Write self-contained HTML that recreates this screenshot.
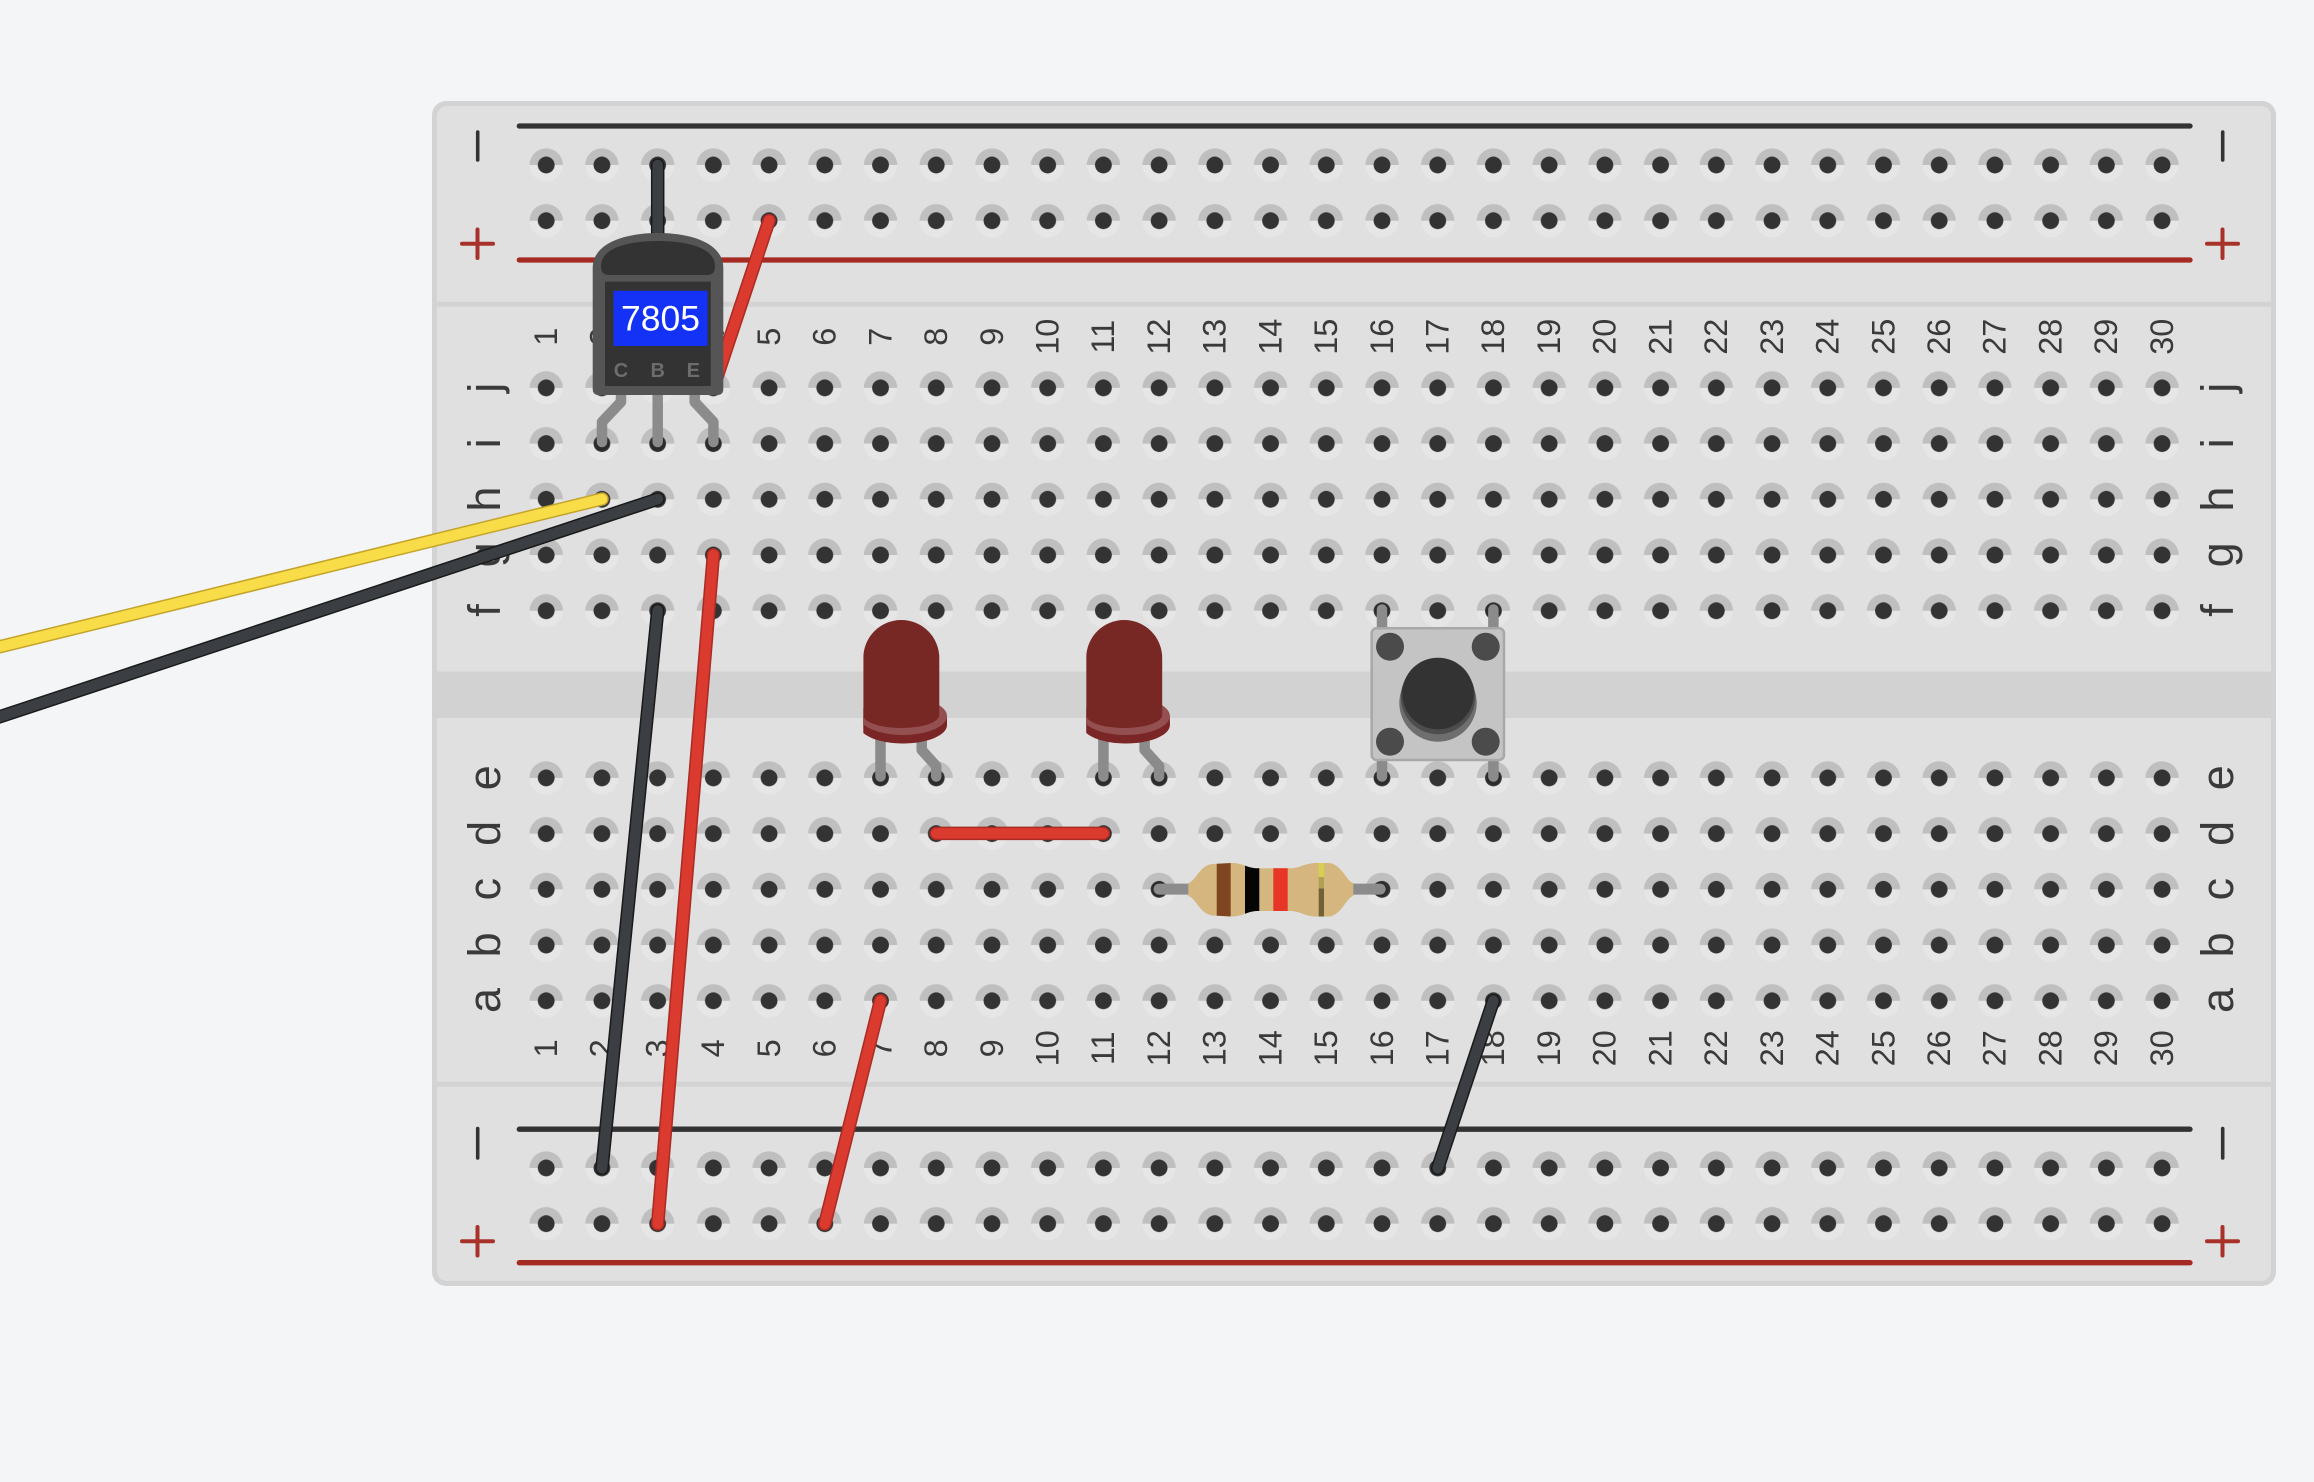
<!DOCTYPE html>
<html>
<head>
<meta charset="utf-8">
<style>
html,body{margin:0;padding:0;background:#f4f5f7;}
svg{display:block;}
.n{font-family:"Liberation Sans",sans-serif;font-size:32.5px;fill:#3a3a3a;text-anchor:middle;}
.l{font-family:"Liberation Sans",sans-serif;font-size:45px;fill:#3a3a3a;text-anchor:middle;}
.w{stroke-linecap:round;stroke-linejoin:round;fill:none;}
.ko{stroke:#1a1a1a;stroke-width:13.5}
.ki{stroke:#3b3f43;stroke-width:10.5}
.ro{stroke:#a92b23;stroke-width:13.5}
.ri{stroke:#db3a2f;stroke-width:10.5}
.yo{stroke:#c4a42a;stroke-width:13.5}
.yi{stroke:#f8dc48;stroke-width:10.5}
.leg{stroke:#8b8b8b;stroke-width:10.5;stroke-linecap:round;stroke-linejoin:round;fill:none;}
.ring{fill:#2b2b2b;}
</style>
</head>
<body>
<svg width="2314" height="1482" viewBox="0 0 2314 1482" xmlns="http://www.w3.org/2000/svg">
<defs>
  <pattern id="hp" patternUnits="userSpaceOnUse" x="518.34" y="137.14" width="55.72" height="55.72">
    <path d="M11.16,27.86 A16.7,16.7 0 0 1 44.56,27.86 Z" fill="#bfbfbf"/>
    <path d="M11.16,27.86 A16.7,16.7 0 0 0 44.56,27.86 Z" fill="#e6e6e6"/>
    <circle cx="27.86" cy="27.86" r="8.4" fill="#333"/>
  </pattern>
  <clipPath id="ledclip"><rect x="863.3" y="600" width="100" height="160"/></clipPath>
  <clipPath id="resclip"><path d="M1188.3,883 C1196,881 1199,866 1212,864 L1232,863 C1243,863 1247,868.3 1258,868.3 L1290,868.3 C1300,868.3 1305,863 1316,863 L1330,863 C1343,866 1346,881 1353.3,883 L1353.3,896 C1346,898 1343,913 1330,916.5 L1316,916.5 C1305,916.5 1300,911 1290,911 L1258,911 C1247,911 1243,916.5 1232,916.5 L1212,915.5 C1199,913 1196,898 1188.3,896 Z"/></clipPath>
</defs>

<rect width="2314" height="1482" fill="#f4f5f7"/>

<!-- Board -->
<rect x="432" y="101" width="1844" height="1185" rx="14" fill="#d3d3d3"/>
<rect x="437" y="106" width="1834" height="1175" rx="10" fill="#e0e0e0"/>
<rect x="432" y="301.7" width="1844" height="5" fill="#d3d3d3"/>
<rect x="432" y="1081.7" width="1844" height="5" fill="#d3d3d3"/>
<rect x="432" y="671.5" width="1844" height="46.5" fill="#d2d2d2"/>

<!-- Holes -->
<rect x="518.34" y="137.14" width="1671.6" height="111.44" fill="url(#hp)"/>
<rect x="518.34" y="360.02" width="1671.6" height="278.6" fill="url(#hp)"/>
<rect x="518.34" y="750.06" width="1671.6" height="278.6" fill="url(#hp)"/>
<rect x="518.34" y="1140.1" width="1671.6" height="111.44" fill="url(#hp)"/>

<!-- Rail lines -->
<g stroke-linecap="round" stroke-width="5.3">
  <line x1="519.3" y1="126" x2="2190" y2="126" stroke="#333"/>
  <line x1="519.3" y1="260" x2="2190" y2="260" stroke="#a52a22"/>
  <line x1="519.3" y1="1129.2" x2="2190" y2="1129.2" stroke="#333"/>
  <line x1="519.3" y1="1262.7" x2="2190" y2="1262.7" stroke="#a52a22"/>
</g>

<!-- Rail signs -->
<g stroke-width="3.6" stroke-linecap="round">
  <line x1="477.7" y1="132" x2="477.7" y2="160" stroke="#333"/>
  <line x1="2222.7" y1="132" x2="2222.7" y2="160" stroke="#333"/>
  <line x1="477.7" y1="1128.5" x2="477.7" y2="1158" stroke="#333"/>
  <line x1="2222.7" y1="1128.5" x2="2222.7" y2="1158" stroke="#333"/>
</g>
<g stroke-width="4" stroke="#a8322a" stroke-linecap="round">
  <line x1="462" y1="243.8" x2="493" y2="243.8"/><line x1="477.5" y1="229.5" x2="477.5" y2="258"/>
  <line x1="2207" y1="243.8" x2="2238" y2="243.8"/><line x1="2222.5" y1="229.5" x2="2222.5" y2="258"/>
  <line x1="462" y1="1241.3" x2="493" y2="1241.3"/><line x1="477.5" y1="1227" x2="477.5" y2="1255.5"/>
  <line x1="2207" y1="1241.3" x2="2238" y2="1241.3"/><line x1="2222.5" y1="1227" x2="2222.5" y2="1255.5"/>
</g>

<!-- Column numbers top -->
<text class="n" transform="translate(557.0,336.7) rotate(-90)">1</text>
<text class="n" transform="translate(612.7,336.7) rotate(-90)">2</text>
<text class="n" transform="translate(668.4,336.7) rotate(-90)">3</text>
<text class="n" transform="translate(724.2,336.7) rotate(-90)">4</text>
<text class="n" transform="translate(779.9,336.7) rotate(-90)">5</text>
<text class="n" transform="translate(835.6,336.7) rotate(-90)">6</text>
<text class="n" transform="translate(891.3,336.7) rotate(-90)">7</text>
<text class="n" transform="translate(947.0,336.7) rotate(-90)">8</text>
<text class="n" transform="translate(1002.8,336.7) rotate(-90)">9</text>
<text class="n" transform="translate(1058.5,336.7) rotate(-90)">10</text>
<text class="n" transform="translate(1114.2,336.7) rotate(-90)">11</text>
<text class="n" transform="translate(1169.9,336.7) rotate(-90)">12</text>
<text class="n" transform="translate(1225.6,336.7) rotate(-90)">13</text>
<text class="n" transform="translate(1281.4,336.7) rotate(-90)">14</text>
<text class="n" transform="translate(1337.1,336.7) rotate(-90)">15</text>
<text class="n" transform="translate(1392.8,336.7) rotate(-90)">16</text>
<text class="n" transform="translate(1448.5,336.7) rotate(-90)">17</text>
<text class="n" transform="translate(1504.2,336.7) rotate(-90)">18</text>
<text class="n" transform="translate(1560.0,336.7) rotate(-90)">19</text>
<text class="n" transform="translate(1615.7,336.7) rotate(-90)">20</text>
<text class="n" transform="translate(1671.4,336.7) rotate(-90)">21</text>
<text class="n" transform="translate(1727.1,336.7) rotate(-90)">22</text>
<text class="n" transform="translate(1782.8,336.7) rotate(-90)">23</text>
<text class="n" transform="translate(1838.6,336.7) rotate(-90)">24</text>
<text class="n" transform="translate(1894.3,336.7) rotate(-90)">25</text>
<text class="n" transform="translate(1950.0,336.7) rotate(-90)">26</text>
<text class="n" transform="translate(2005.7,336.7) rotate(-90)">27</text>
<text class="n" transform="translate(2061.4,336.7) rotate(-90)">28</text>
<text class="n" transform="translate(2117.2,336.7) rotate(-90)">29</text>
<text class="n" transform="translate(2172.9,336.7) rotate(-90)">30</text>

<!-- Column numbers bottom -->
<text class="n" transform="translate(557.0,1048.3) rotate(-90)">1</text>
<text class="n" transform="translate(612.7,1048.3) rotate(-90)">2</text>
<text class="n" transform="translate(668.4,1048.3) rotate(-90)">3</text>
<text class="n" transform="translate(724.2,1048.3) rotate(-90)">4</text>
<text class="n" transform="translate(779.9,1048.3) rotate(-90)">5</text>
<text class="n" transform="translate(835.6,1048.3) rotate(-90)">6</text>
<text class="n" transform="translate(891.3,1048.3) rotate(-90)">7</text>
<text class="n" transform="translate(947.0,1048.3) rotate(-90)">8</text>
<text class="n" transform="translate(1002.8,1048.3) rotate(-90)">9</text>
<text class="n" transform="translate(1058.5,1048.3) rotate(-90)">10</text>
<text class="n" transform="translate(1114.2,1048.3) rotate(-90)">11</text>
<text class="n" transform="translate(1169.9,1048.3) rotate(-90)">12</text>
<text class="n" transform="translate(1225.6,1048.3) rotate(-90)">13</text>
<text class="n" transform="translate(1281.4,1048.3) rotate(-90)">14</text>
<text class="n" transform="translate(1337.1,1048.3) rotate(-90)">15</text>
<text class="n" transform="translate(1392.8,1048.3) rotate(-90)">16</text>
<text class="n" transform="translate(1448.5,1048.3) rotate(-90)">17</text>
<text class="n" transform="translate(1504.2,1048.3) rotate(-90)">18</text>
<text class="n" transform="translate(1560.0,1048.3) rotate(-90)">19</text>
<text class="n" transform="translate(1615.7,1048.3) rotate(-90)">20</text>
<text class="n" transform="translate(1671.4,1048.3) rotate(-90)">21</text>
<text class="n" transform="translate(1727.1,1048.3) rotate(-90)">22</text>
<text class="n" transform="translate(1782.8,1048.3) rotate(-90)">23</text>
<text class="n" transform="translate(1838.6,1048.3) rotate(-90)">24</text>
<text class="n" transform="translate(1894.3,1048.3) rotate(-90)">25</text>
<text class="n" transform="translate(1950.0,1048.3) rotate(-90)">26</text>
<text class="n" transform="translate(2005.7,1048.3) rotate(-90)">27</text>
<text class="n" transform="translate(2061.4,1048.3) rotate(-90)">28</text>
<text class="n" transform="translate(2117.2,1048.3) rotate(-90)">29</text>
<text class="n" transform="translate(2172.9,1048.3) rotate(-90)">30</text>

<!-- Row letters left -->
<text class="l" transform="translate(500,387.7) rotate(-90)">j</text>
<text class="l" transform="translate(500,443.4) rotate(-90)">i</text>
<text class="l" transform="translate(500,499.1) rotate(-90)">h</text>
<text class="l" transform="translate(500,554.8) rotate(-90)">g</text>
<text class="l" transform="translate(500,610.5) rotate(-90)">f</text>
<text class="l" transform="translate(500,777.7) rotate(-90)">e</text>
<text class="l" transform="translate(500,833.4) rotate(-90)">d</text>
<text class="l" transform="translate(500,889.1) rotate(-90)">c</text>
<text class="l" transform="translate(500,944.8) rotate(-90)">b</text>
<text class="l" transform="translate(500,1000.5) rotate(-90)">a</text>
<!-- Row letters right -->
<text class="l" transform="translate(2233,387.7) rotate(-90)">j</text>
<text class="l" transform="translate(2233,443.4) rotate(-90)">i</text>
<text class="l" transform="translate(2233,499.1) rotate(-90)">h</text>
<text class="l" transform="translate(2233,554.8) rotate(-90)">g</text>
<text class="l" transform="translate(2233,610.5) rotate(-90)">f</text>
<text class="l" transform="translate(2233,777.7) rotate(-90)">e</text>
<text class="l" transform="translate(2233,833.4) rotate(-90)">d</text>
<text class="l" transform="translate(2233,889.1) rotate(-90)">c</text>
<text class="l" transform="translate(2233,944.8) rotate(-90)">b</text>
<text class="l" transform="translate(2233,1000.5) rotate(-90)">a</text>

<!-- Wires under regulator -->
<line class="w ko" x1="657.7" y1="165" x2="657.7" y2="330"/>
<line class="w ki" x1="657.7" y1="165" x2="657.7" y2="330"/>
<line class="w ro" x1="769.1" y1="220.5" x2="713.4" y2="387.7"/>
<line class="w ri" x1="769.1" y1="220.5" x2="713.4" y2="387.7"/>

<!-- Regulator legs -->
<circle class="ring" cx="602" cy="443.4" r="7.2"/>
<circle class="ring" cx="657.7" cy="443.4" r="7.2"/>
<circle class="ring" cx="713.4" cy="443.4" r="7.2"/>
<path class="leg" d="M621,392 L621,402 L602,422 L602,442"/>
<path class="leg" d="M657.7,392 L657.7,442"/>
<path class="leg" d="M694.7,392 L694.7,402 L713.4,422 L713.4,442"/>

<!-- Regulator body -->
<path d="M592.7,268 C592.7,243 625,233 658,233 C691,233 723.3,243 723.3,268 L723.3,389 Q723.3,395 717.3,395 L598.7,395 Q592.7,395 592.7,389 Z" fill="#555"/>
<path d="M601,266 C601,248 628,241 658,241 C688,241 715,248 715,266 C715,273 712,275 706,275 L610,275 C604,275 601,273 601,266 Z" fill="#333"/>
<rect x="605" y="281.7" width="105.7" height="104.3" fill="#333"/>
<rect x="613.5" y="290.8" width="94" height="55.2" fill="#1432f5"/>
<text x="660.5" y="330.7" font-family="Liberation Sans, sans-serif" font-size="35.5" fill="#fff" text-anchor="middle">7805</text>
<g font-family="Liberation Sans, sans-serif" font-size="20" font-weight="bold" fill="#6c6c6c" text-anchor="middle">
  <text x="621" y="377">C</text>
  <text x="657.7" y="377">B</text>
  <text x="693.3" y="377">E</text>
</g>

<!-- Off-board wires -->
<line class="w yo" x1="602" y1="499" x2="-20" y2="651.6"/>
<line class="w yi" x1="602" y1="499" x2="-20" y2="651.6"/>
<line class="w ko" x1="658" y1="499" x2="-20" y2="723.3"/>
<line class="w ki" x1="658" y1="499" x2="-20" y2="723.3"/>

<!-- Board wires -->
<line class="w ko" x1="657.7" y1="610.5" x2="602" y2="1168.3"/>
<line class="w ki" x1="657.7" y1="610.5" x2="602" y2="1168.3"/>
<line class="w ro" x1="713.4" y1="554.8" x2="657.7" y2="1224"/>
<line class="w ri" x1="713.4" y1="554.8" x2="657.7" y2="1224"/>
<line class="w ro" x1="880.5" y1="1000.6" x2="824.8" y2="1224"/>
<line class="w ri" x1="880.5" y1="1000.6" x2="824.8" y2="1224"/>
<line class="w ko" x1="1493.4" y1="1000.6" x2="1437.7" y2="1168.3"/>
<line class="w ki" x1="1493.4" y1="1000.6" x2="1437.7" y2="1168.3"/>
<line class="w ro" x1="936.2" y1="833.4" x2="1103.4" y2="833.4"/>
<line class="w ri" x1="936.2" y1="833.4" x2="1103.4" y2="833.4"/>

<!-- LED 1 -->
<g id="led1">
  <circle class="ring" cx="880.5" cy="777.7" r="7.2"/>
  <circle class="ring" cx="936.2" cy="777.7" r="7.2"/>
  <path class="leg" d="M880.5,735 L880.5,776.5"/>
  <path class="leg" d="M921.7,735 L921.7,750 L936.2,766 L936.2,776.5"/>
  <g clip-path="url(#ledclip)">
    <ellipse cx="903" cy="725" rx="44" ry="18.5" fill="#7b2626"/>
    <rect x="859" y="716" width="88" height="9" fill="#7b2626"/>
    <ellipse cx="903" cy="716" rx="44" ry="19" fill="#945050"/>
    <path d="M863.3,658 A38,38 0 0 1 939.3,658 L939.3,715 A38,13 0 0 1 863.3,715 Z" fill="#772724"/>
  </g>
</g>
<!-- LED 2 -->
<g transform="translate(222.9,0)">
  <circle class="ring" cx="880.5" cy="777.7" r="7.2"/>
  <circle class="ring" cx="936.2" cy="777.7" r="7.2"/>
  <path class="leg" d="M880.5,735 L880.5,776.5"/>
  <path class="leg" d="M921.7,735 L921.7,750 L936.2,766 L936.2,776.5"/>
  <g clip-path="url(#ledclip)">
    <ellipse cx="903" cy="725" rx="44" ry="18.5" fill="#7b2626"/>
    <rect x="859" y="716" width="88" height="9" fill="#7b2626"/>
    <ellipse cx="903" cy="716" rx="44" ry="19" fill="#945050"/>
    <path d="M863.3,658 A38,38 0 0 1 939.3,658 L939.3,715 A38,13 0 0 1 863.3,715 Z" fill="#772724"/>
  </g>
</g>

<!-- Resistor -->
<circle class="ring" cx="1159.1" cy="889.1" r="7.5"/>
<circle class="ring" cx="1380.2" cy="889.1" r="7.5"/>
<line x1="1159.1" y1="889.1" x2="1380.2" y2="889.1" stroke="#8c8c8c" stroke-width="11" stroke-linecap="round"/>
<g clip-path="url(#resclip)">
  <rect x="1185" y="860" width="172" height="60" fill="#d4b67e"/>
  <rect x="1216.7" y="860" width="14" height="60" fill="#7e4520"/>
  <rect x="1245" y="860" width="14.3" height="60" fill="#050505"/>
  <rect x="1273.3" y="860" width="14.4" height="60" fill="#e73527"/>
  <rect x="1318.7" y="860" width="5.3" height="17" fill="#d8cf50"/>
  <rect x="1318.7" y="877" width="5.3" height="11.5" fill="#b0a054"/>
  <rect x="1318.7" y="888.5" width="5.3" height="30" fill="#6e6236"/>
</g>

<!-- Pushbutton -->
<circle class="ring" cx="1382" cy="610.5" r="7.2"/>
<circle class="ring" cx="1493.4" cy="610.5" r="7.2"/>
<circle class="ring" cx="1382" cy="777.7" r="7.2"/>
<circle class="ring" cx="1493.4" cy="777.7" r="7.2"/>
<path class="leg" d="M1382,609.5 L1382,645"/>
<path class="leg" d="M1493.4,609.5 L1493.4,645"/>
<path class="leg" d="M1382,745 L1382,776.5"/>
<path class="leg" d="M1493.4,745 L1493.4,776.5"/>
<rect x="1371.7" y="628.3" width="132.3" height="131.7" rx="5" fill="#c4c4c4" stroke="#a8a8a8" stroke-width="2.5"/>
<circle cx="1390" cy="646.7" r="14" fill="#4b4b4b"/>
<circle cx="1485.7" cy="646.7" r="14" fill="#4b4b4b"/>
<circle cx="1390" cy="741.7" r="14" fill="#4b4b4b"/>
<circle cx="1485.7" cy="741.7" r="14" fill="#4b4b4b"/>
<circle cx="1438" cy="703" r="38.7" fill="#6e6e6e"/>
<circle cx="1438" cy="697" r="37.2" fill="#4d4d4d"/>
<circle cx="1438" cy="693.5" r="35.8" fill="#333"/>
</svg>
</body>
</html>
